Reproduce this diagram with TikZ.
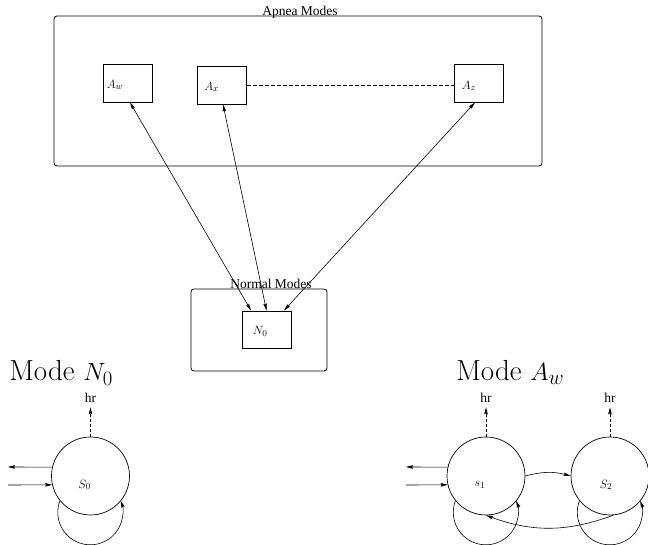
\documentclass[tikz,border=0pt]{standalone}
\usepackage{fontspec}
\newfontfamily\figfont{Liberation Serif}
\usetikzlibrary{arrows.meta}

\begin{document}
\begin{tikzpicture}[x=1pt, y=1pt, >={Stealth[length=7pt, width=3.5pt, inset=1pt]},
  group/.style={draw, rounded corners=3pt, line width=0.8pt, inner sep=0pt},
  modebox/.style={draw, line width=0.9pt, inner sep=0pt, minimum width=49pt, minimum height=38pt},
  grouptitle/.style={anchor=base, inner sep=0pt, font=\figfont\fontsize{13.5}{16}\selectfont},
  modetitle/.style={anchor=base west, inner sep=0pt, font=\fontsize{29}{34}\selectfont},
  state/.style={circle, draw, line width=0.7pt, minimum size=78pt, inner sep=0pt},
  hrlbl/.style={anchor=base, inner sep=4pt, font=\figfont\fontsize{13.5}{15}\selectfont},
  hrline/.style={->, dash pattern=on 3pt off 2pt},
  every label/.style={inner sep=0pt, font=\fontsize{13}{15}\selectfont},
  every path/.style={line width=0.6pt}]
\useasboundingbox (0,0) rectangle (648,545);

% apnea modes
\node[group, minimum width=488pt, minimum height=150pt] (apnea) at (298,454) {};
\node[grouptitle] (apneatitle) at (300,529) {Apnea Modes};
\node[modebox, label={[anchor=west, xshift=4pt, yshift=-2pt]west:$A_w$}] (aw) at (127.5,462) {};
\node[modebox, label={[anchor=west, xshift=7pt, yshift=-2pt]west:$A_x$}] (ax) at (222,460) {};
\node[modebox, label={[anchor=west, xshift=8pt, yshift=-3pt]west:$A_z$}] (az) at (478.5,462) {};
\draw[dash pattern=on 4pt off 2pt] (ax.east) -- (ax.east -| az.west);

% normal modes
\node[group, minimum width=136pt, minimum height=82pt] (normal) at (259,215) {};
\node[grouptitle] (normaltitle) at (271,256) {Normal Modes};
\node[modebox, minimum height=37pt, label={[anchor=west, xshift=11pt, yshift=-2pt]west:$N_0$}] (n0) at (266.5,215.5) {};
\draw[<->] ([xshift=-15.5pt]n0.north) -- ([xshift=2.5pt]aw.south);
\draw[<->] (n0.north) -- ([xshift=1pt]ax.south);
\draw[<->] ([xshift=17.5pt]n0.north) -- ([xshift=-3.5pt]az.south);

% mode N0
\node[modetitle] (moden0) at (9,164) {Mode $N_0$};
\node[state, label={[xshift=-6pt, yshift=-9pt]center:$S_0$}] (s0) at (90.5,69) {};
\node[hrlbl] (hr0) at (90.5,142) {hr};
\draw[hrline] (s0) -- (hr0);
\coordinate (out0) at (8,78);
\coordinate (in0) at (8,60);
\draw[->] (s0.167) -- (out0);
\draw[->] (in0) -- (s0.193);
\draw[->] (s0.219) arc[start angle=159.2, end angle=380.8, radius=32.5];

% mode Aw
\node[modetitle] (modeaw) at (456,164) {Mode $A_w$};
\node[state, label={[xshift=-6pt, yshift=-9pt]center:$s_1$}] (s1) at (486,69) {};
\node[state, label={[xshift=-4pt, yshift=-9pt]center:$S_2$}] (s2) at (610,69) {};
\node[hrlbl] (hr1) at (486,142) {hr};
\node[hrlbl] (hr2) at (610,142) {hr};
\draw[hrline] (s1) -- (hr1);
\draw[hrline] (s2) -- (hr2);
\coordinate (out1) at (406,78);
\coordinate (in1) at (406,60);
\draw[->] (s1.167) -- (out1);
\draw[->] (in1) -- (s1.193);
\draw[->] (s1.219) arc[start angle=159.2, end angle=380.8, radius=32.5];
\draw[->] (s2.219) arc[start angle=159.2, end angle=380.8, radius=32.5];
\draw[->] (s1.east) to[bend left=15] (s2.west);
\draw[->] (s2.-85) to[bend left=20] (s1.south);
\end{tikzpicture}
\end{document}
